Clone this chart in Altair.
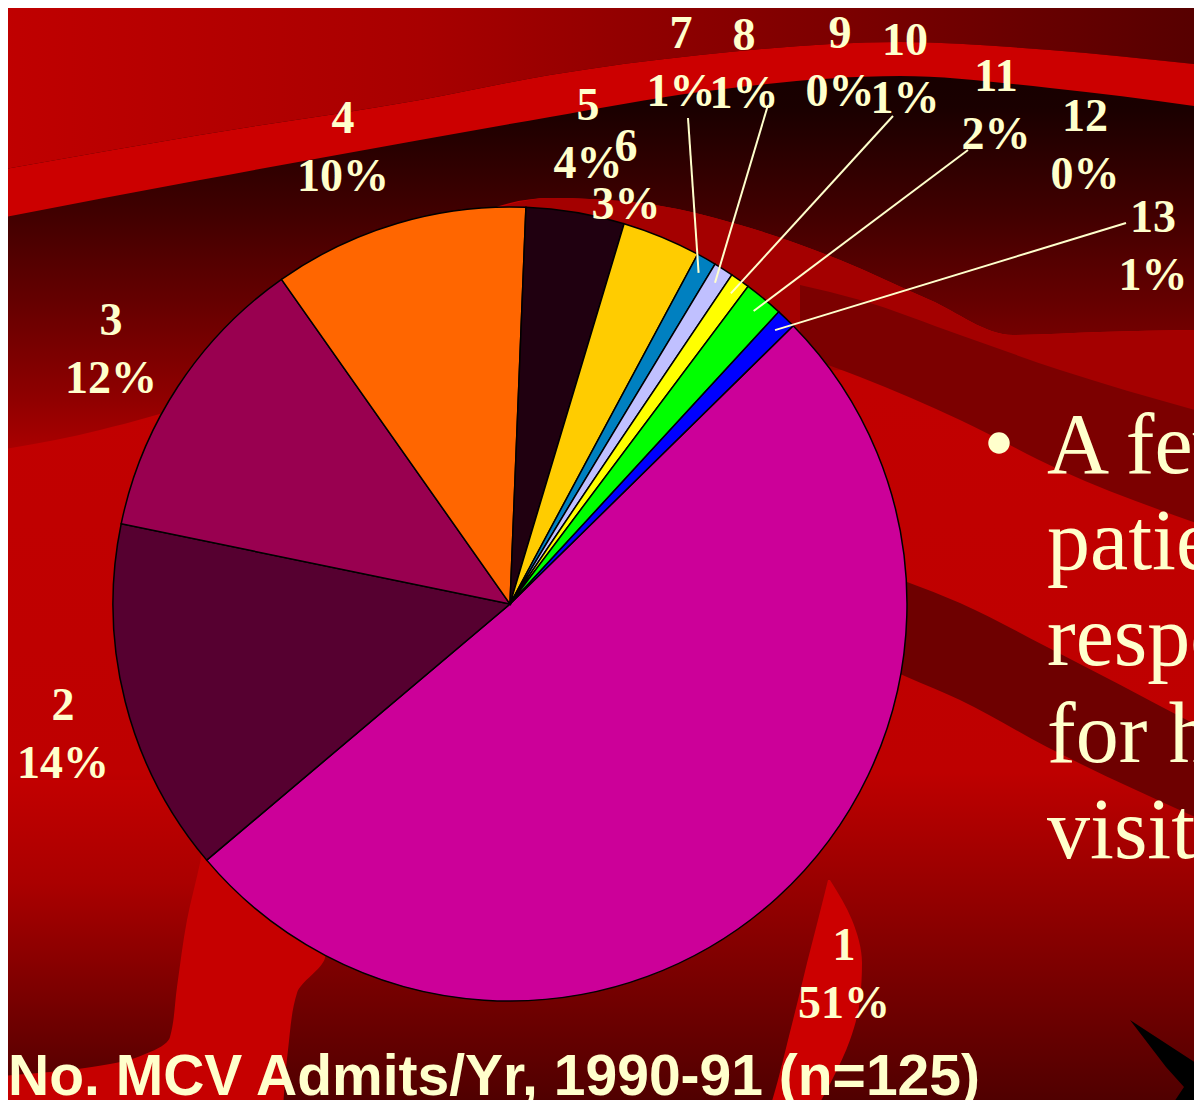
import math
import altair as alt
import pandas as pd

# ---------------- data ----------------
CATEGORIES = ["1", "2", "3", "4", "5", "6", "7", "8", "9", "10", "11", "12", "13"]
COUNTS = [64, 18, 15, 13, 5, 4, 1, 1, 0, 1, 2, 0, 1]          # n = 125 patients
N_TOTAL = 125
SLICE_COLORS = ["#CC0099", "#560030", "#990050", "#FF6600", "#200010", "#FFCC00",
                "#0080C0", "#C0C0FF", "#FFFF99", "#FFFF00", "#00FF00", "#00FFFF", "#0000FF"]

TITLE = "No. MCV Admits/Yr, 1990-91 (n=125)"
BULLET_LINES = ["A few", "patients", "responsible", "for high", "visits"]

# ---------------- layout (reference slide pixels) ----------------
OFF = 8                      # page margin
W, H = 1186, 1092
CX, CY, R = 510, 604, 397
START_DEG = 45.5
CREAM = "#FFFFCC"

LABEL_X = [844, 63, 111, 343, 588, 626, 681, 744, 840, 905, 996, 1085, 1153]
LABEL_Y = [975, 735, 350, 148, 135, 176, 63, 65, 63, 70, 106, 146, 247]
LEADER_CATS = ["7", "8", "10", "11", "13"]
LEADER_X = [688, 768, 893, 968, 1126]
LEADER_Y = [118, 105, 116, 150, 223]


def px(v):
    return v - OFF


def grad(stops, vertical=True):
    return alt.Gradient(
        gradient="linear",
        stops=[alt.GradientStop(offset=o, color=c) for o, c in stops],
        x1=0, y1=0, x2=0 if vertical else 1, y2=1 if vertical else 0,
    )


def hband(xs, tops, bots, fill, interp="monotone"):
    df = pd.DataFrame({"x": [px(v) for v in xs], "y": [px(v) for v in tops],
                       "y2": [px(v) for v in bots]})
    return alt.Chart(df).mark_area(fill=fill, interpolate=interp, opacity=1).encode(
        x=alt.X("x:Q", scale=None, axis=None),
        y=alt.Y("y:Q", scale=None, axis=None, stack=False),
        y2=alt.Y2("y2:Q"),
    )


def vband(ys, lefts, rights, fill, interp="monotone"):
    df = pd.DataFrame({"y": [px(v) for v in ys], "x": [px(v) for v in lefts],
                       "x2": [px(v) for v in rights]})
    return alt.Chart(df).mark_area(fill=fill, interpolate=interp, opacity=1,
                                   orient="horizontal").encode(
        y=alt.Y("y:Q", scale=None, axis=None),
        x=alt.X("x:Q", scale=None, axis=None, stack=False),
        x2=alt.X2("x2:Q"),
    )


one = pd.DataFrame({"a": [0]})

# ---------------- background ----------------
base = alt.Chart(one).mark_rect(
    fill=grad([(0, "#C40000"), (0.7, "#BE0000"), (1, "#500000")])
).encode(x=alt.value(0), x2=alt.value(W), y=alt.value(0), y2=alt.value(H))

dark_top = hband(
    [0, 100, 200, 300, 400, 470, 550, 640, 740, 840, 930, 1013, 1100, 1202],
    [0] * 14,
    [450, 430, 400, 350, 280, 218, 198, 203, 225, 260, 300, 335, 332, 330],
    grad([(0, "#100000"), (0.24, "#1A0000"), (0.48, "#420000"), (0.67, "#650000"),
          (0.89, "#900000"), (1, "#AA0000")]),
)
B1_X = [0, 200, 420, 550, 700, 900, 1050, 1202]
B1_TOP = [170, 135, 100, 75, 55, 42, 50, 65]
B1_BOT = [218, 180, 140, 117, 92, 76, 88, 107]
top_region = hband(B1_X, [0] * len(B1_X), B1_TOP,
                   grad([(0, "#C00000"), (0.35, "#A80000"), (0.6, "#880000"), (1, "#560000")],
                        vertical=False))
band1 = hband(B1_X, B1_TOP, B1_BOT, "#CC0000")
band2 = hband([470, 550, 640, 740, 840, 930, 1013, 1100, 1202],
              [218, 198, 203, 225, 260, 300, 335, 332, 330],
              [520, 480, 440, 400, 370, 400, 440, 480, 525], "#A40000")
stripe2 = hband([800, 860, 960, 1060, 1202], [285, 300, 335, 370, 412],
                [355, 377, 420, 470, 525], "#7C0000")
stripe4 = hband([880, 907, 960, 1047, 1202], [572, 582, 603, 647, 728],
                [665, 677, 700, 747, 820], "#6E0000")
bl_bright = vband([840, 958, 993, 1050, 1108], [0] * 5, [340, 325, 297, 288, 283], "#C60000")
blob = vband([780, 863, 920, 987, 1037, 1052, 1064, 1072, 1076], [0] * 9,
             [215, 200, 187, 177, 170, 150, 110, 50, 0],
             grad([(0, "#C20000"), (0.35, "#AA0000"), (1, "#580000")]))
swoosh = vband([880, 920, 963, 1000, 1040, 1080, 1108],
               [828, 818, 807, 798, 788, 778, 770],
               [830, 852, 862, 860, 850, 832, 817], "#CC0000")
arrow = vband([1020, 1067, 1087, 1108], [1130, 1166, 1184, 1170],
              [1130, 1202, 1202, 1202], "#000000", interp="linear")

# ---------------- pie ----------------
pie_df = pd.DataFrame({"cat": CATEGORIES, "count": COUNTS, "idx": list(range(len(CATEGORIES)))})
start = math.radians(START_DEG)
pie = alt.Chart(pie_df).transform_filter("datum.count > 0").mark_arc(
    outerRadius=R, stroke="black", strokeWidth=1.5
).encode(
    theta=alt.Theta("count:Q", stack=True,
                    scale=alt.Scale(domain=[0, N_TOTAL], range=[start, start + 2 * math.pi])),
    color=alt.Color("cat:N", scale=alt.Scale(domain=CATEGORIES, range=SLICE_COLORS), legend=None),
    order=alt.Order("idx:Q", sort="ascending"),
    x=alt.value(px(CX)),
    y=alt.value(px(CY)),
)

# ---------------- labels ----------------
pcts = [f"{round(c * 100 / N_TOTAL)}%" for c in COUNTS]
lab_df = pd.DataFrame({"num": CATEGORIES, "pct": pcts,
                       "x": [px(v) for v in LABEL_X], "y": [px(v) for v in LABEL_Y]})
lab_style = dict(font="Liberation Serif", fontWeight="bold", fontSize=46, color=CREAM,
                 align="center", baseline="middle")
lab_num = alt.Chart(lab_df).mark_text(dy=-29, **lab_style).encode(
    x=alt.X("x:Q", scale=None, axis=None), y=alt.Y("y:Q", scale=None, axis=None), text="num:N")
lab_pct = alt.Chart(lab_df).mark_text(dy=29, **lab_style).encode(
    x=alt.X("x:Q", scale=None, axis=None), y=alt.Y("y:Q", scale=None, axis=None), text="pct:N")

# leader lines: from label to the middle of the small slices
cum = 0
mid_deg = {}
for cat, c in zip(CATEGORIES, COUNTS):
    mid_deg[cat] = START_DEG + (cum + c / 2) * 360 / N_TOTAL
    cum += c
rows = []
for cat, lx, ly in zip(LEADER_CATS, LEADER_X, LEADER_Y):
    a = math.radians(mid_deg[cat])
    ex = CX + 0.96 * R * math.sin(a)
    ey = CY - 0.96 * R * math.cos(a)
    rows.append({"x": px(lx), "y": px(ly), "x2": px(ex), "y2": px(ey)})
lead_df = pd.DataFrame(rows)
leaders = alt.Chart(lead_df).mark_rule(color=CREAM, strokeWidth=2).encode(
    x=alt.X("x:Q", scale=None, axis=None), y=alt.Y("y:Q", scale=None, axis=None),
    x2="x2:Q", y2="y2:Q")

# ---------------- slide text ----------------
bullet = alt.Chart(one).mark_circle(size=460, color=CREAM, opacity=1).encode(
    x=alt.value(px(999)), y=alt.value(px(443)))
txt_df = pd.DataFrame({"t": BULLET_LINES, "x": [px(1047)] * 5,
                       "y": [px(v) for v in [473, 569, 665, 762, 858]]})
bullet_text = alt.Chart(txt_df).mark_text(
    font="Liberation Serif", fontSize=86, color=CREAM, align="left", baseline="alphabetic"
).encode(x=alt.X("x:Q", scale=None, axis=None), y=alt.Y("y:Q", scale=None, axis=None), text="t:N")

title = alt.Chart(pd.DataFrame({"t": [TITLE]})).mark_text(
    font="Liberation Sans", fontWeight="bold", fontSize=57, color=CREAM,
    align="left", baseline="alphabetic"
).encode(x=alt.value(0), y=alt.value(px(1095)), text="t:N")

chart = alt.layer(
    base, dark_top, top_region, band1, band2, stripe2, stripe4, bl_bright, blob, swoosh, arrow,
    pie, leaders, lab_num, lab_pct, bullet, bullet_text, title,
).properties(
    width=W, height=H, autosize=alt.AutoSizeParams(type="none"), padding=0,
).configure_view(strokeWidth=0)

chart.save("out.html", embed_options={"renderer": "svg", "actions": False})
